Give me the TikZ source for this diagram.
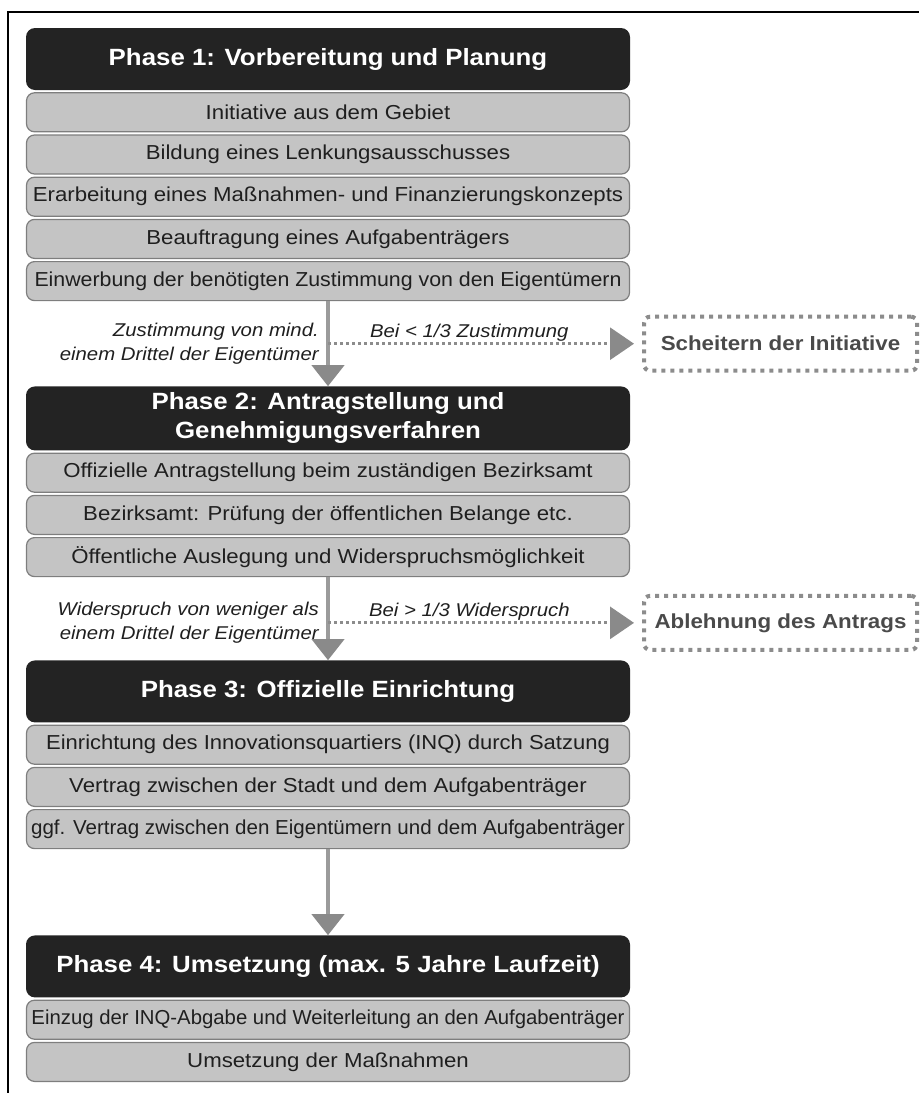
\documentclass[tikz,border=0pt]{standalone}
\usepackage{fontspec}
\setmainfont{Liberation Sans}[FakeStretch=1.1]
\usetikzlibrary{arrows.meta,positioning,calc}

\definecolor{phasedark}{HTML}{232323}
\definecolor{stepfill}{HTML}{C4C4C4}
\definecolor{steprule}{HTML}{7E7E7E}
\definecolor{argray}{HTML}{9B9B9B}
\definecolor{tipgray}{HTML}{8A8A8A}
\definecolor{dotgray}{HTML}{8C8C8C}
\definecolor{stoptext}{HTML}{4A4A4A}

% long step texts are set a little narrower
\newcommand{\narrow}[2]{\scalebox{#1}[1]{#2}}

\begin{document}
\begin{tikzpicture}[
  x=1pt, y=1pt,
  phase/.style={fill=phasedark, text=white, rounded corners=9pt,
                minimum width=604pt, minimum height=62pt, inner sep=2pt,
                align=center, font=\fontsize{23.5}{29}\selectfont\bfseries},
  stepbox/.style={draw=steprule, fill=stepfill, line width=1.2pt,
                  rounded corners=8pt, minimum width=603pt, minimum height=39pt,
                  inner sep=1pt, text=black!88, font=\fontsize{20.2}{24}\selectfont},
  lbl/.style={inner sep=0pt, align=right, text=black!88,
              font=\fontsize{18.5}{24.5}\selectfont\itshape},
  cond/.style={inner sep=1pt, text=black!88,
               font=\fontsize{18.5}{22}\selectfont\itshape},
  stop/.style={draw=dotgray, line width=4pt, dash pattern=on 4pt off 5pt,
               rounded corners=6pt, minimum width=273pt, minimum height=54pt,
               text=stoptext, font=\fontsize{20.3}{26}\selectfont\bfseries},
  ar/.style={draw=argray, line width=4pt,
             -{Triangle[length=21pt, width=32pt, color=tipgray]}},
  dotar/.style={draw=dotgray, line width=3pt, dash pattern=on 3pt off 3pt,
                shorten >=8pt, -{Triangle[length=24pt, width=32pt, color=tipgray]}},
  node distance=2pt,
]
\useasboundingbox (0,0) rectangle (919,-1093);
\draw[line width=1.5pt] (8,-1093) -- (8,-12) -- (919,-12);

% Phase 1
\node[phase] (h1) at (328,-59) {Phase 1: Vorbereitung und Planung};
\node[stepbox, below=of h1]  (s11) {Initiative aus dem Gebiet};
\node[stepbox, below=of s11] (s12) {Bildung eines Lenkungsausschusses};
\node[stepbox, below=of s12] (s13) {Erarbeitung eines Maßnahmen- und Finanzierungskonzepts};
\node[stepbox, below=of s13] (s14) {Beauftragung eines Aufgabenträgers};
\node[stepbox, below=of s14] (s15) {\narrow{.96}{Einwerbung der benötigten Zustimmung von den Eigentümern}};

% Phase 2
\node[phase, below=85pt of s15, minimum height=64pt] (h2) {Phase 2: Antragstellung und\\Genehmigungsverfahren};
\node[stepbox, below=of h2]  (s21) {Offizielle Antragstellung beim zuständigen Bezirksamt};
\node[stepbox, below=of s21] (s22) {Bezirksamt: Prüfung der öffentlichen Belange etc.};
\node[stepbox, below=of s22] (s23) {Öffentliche Auslegung und Widerspruchsmöglichkeit};

% Phase 3
\node[phase, below=83pt of s23] (h3) {Phase 3: Offizielle Einrichtung};
\node[stepbox, below=of h3]  (s31) {\narrow{.99}{Einrichtung des Innovationsquartiers (INQ) durch Satzung}};
\node[stepbox, below=of s31] (s32) {Vertrag zwischen der Stadt und dem Aufgabenträger};
\node[stepbox, below=of s32] (s33) {\narrow{.925}{ggf. Vertrag zwischen den Eigentümern und dem Aufgabenträger}};

% Phase 4
\node[phase, below=86pt of s33] (h4) {Phase 4: Umsetzung (max. 5 Jahre Laufzeit)};
\node[stepbox, below=of h4]  (s41) {\narrow{.915}{Einzug der INQ-Abgabe und Weiterleitung an den Aufgabenträger}};
\node[stepbox, below=of s41] (s42) {Umsetzung der Maßnahmen};

% Abbruch
\coordinate (j1) at ($(s15.south)!.5!(h2.north)$);
\coordinate (j2) at ($(s23.south)!.55!(h3.north)$);
\node[stop, right=314pt of j1] (f1) {Scheitern der Initiative};
\node[stop, right=314pt of j2] (f2) {Ablehnung des Antrags};

\node[lbl, left=9pt of j1] (l1) {Zustimmung von mind.\\einem Drittel der Eigentümer};
\node[lbl, left=9pt of j2] (l2) {Widerspruch von weniger als\\einem Drittel der Eigentümer};

\draw[ar] (s15) -- (h2);
\draw[ar] (s23) -- (h3);
\draw[ar] (s33) -- (h4);
\draw[dotar] (j1) -- (f1) node[cond, pos=.45, above] (c1) {Bei < 1/3 Zustimmung};
\draw[dotar] (j2) -- (f2) node[cond, pos=.45, above] (c2) {Bei > 1/3 Widerspruch};
\end{tikzpicture}
\end{document}
